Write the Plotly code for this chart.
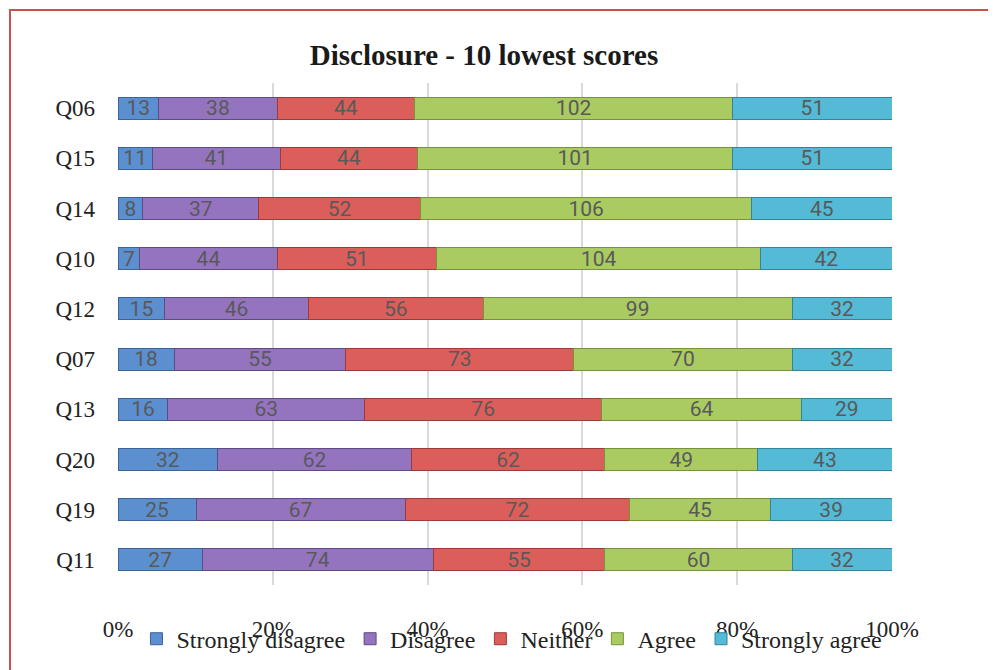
import plotly.graph_objects as go

questions = ["Q06", "Q15", "Q14", "Q10", "Q12", "Q07", "Q13", "Q20", "Q19", "Q11"]
series_names = ["Strongly disagree", "Disagree", "Neither", "Agree", "Strongly agree"]
strongly_disagree = [13, 11, 8, 7, 15, 18, 16, 32, 25, 27]
disagree = [38, 41, 37, 44, 46, 55, 63, 62, 67, 74]
neither = [44, 44, 52, 51, 56, 73, 76, 62, 72, 55]
agree = [102, 101, 106, 104, 99, 70, 64, 49, 45, 60]
strongly_agree = [51, 51, 45, 42, 32, 32, 29, 43, 39, 32]
x_ticks = [0, 20, 40, 60, 80, 100]
x_tick_labels = ["0%", "20%", "40%", "60%", "80%", "100%"]

series_values = [strongly_disagree, disagree, neither, agree, strongly_agree]
fills = ["#5b8fd0", "#9474bf", "#dc5e5b", "#a9cb62", "#55bad5"]
edges = ["#3c6496", "#5f4a85", "#9c3b39", "#76933c", "#31849b"]

fig = go.Figure()
for name, vals, fc, ec in zip(series_names, series_values, fills, edges):
    fig.add_trace(go.Bar(
        y=questions, x=vals, name=name, orientation="h",
        marker=dict(color=fc, line=dict(color=ec, width=1)),
        text=[str(v) for v in vals],
        textposition="inside", insidetextanchor="middle", textangle=0,
        constraintext="none",
        textfont=dict(family="Roboto, sans-serif", size=21, color="#595959"),
    ))

# page body has an 8px offset; plot area spans x 118..892, y 83..585 in the window
fig.update_layout(
    width=996, height=670,
    barmode="stack", barnorm="percent", bargap=0.56,
    paper_bgcolor="white", plot_bgcolor="white",
    margin=dict(l=110, r=112, t=75, b=93),
    title=dict(text="<b>Disclosure - 10 lowest scores</b>", x=(484-8)/996, xref="container",
               xanchor="center", y=1-(55-8)/670, yanchor="middle",
               font=dict(family="Liberation Serif, Times New Roman, serif", size=29, color="#1a1a1a")),
    font=dict(family="Liberation Serif, Times New Roman, serif", size=23, color="#222222"),
    showlegend=True,
    legend=dict(orientation="h", x=0.509, xanchor="center", y=-0.063, yanchor="top",
                traceorder="normal", font=dict(size=24), itemwidth=30,
                bgcolor="rgba(0,0,0,0)"),
    xaxis=dict(range=[0, 100], tickvals=x_ticks, ticktext=x_tick_labels, showgrid=True,
               gridcolor="#d9d9d9", gridwidth=1.5, zeroline=False, showline=False,
               ticklabelstandoff=28, tickfont=dict(size=23)),
    yaxis=dict(autorange="reversed", showgrid=False, showline=False, zeroline=False,
               ticklabelstandoff=22, tickfont=dict(size=23)),
)

fig.add_shape(type="rect", xref="paper", yref="paper",
              x0=(10-118)/774, x1=(990-118)/774, y0=-0.3, y1=(585-10)/502,
              line=dict(color="#c9504d", width=2), fillcolor="rgba(0,0,0,0)", layer="below")

fig.write_html("out.html")
